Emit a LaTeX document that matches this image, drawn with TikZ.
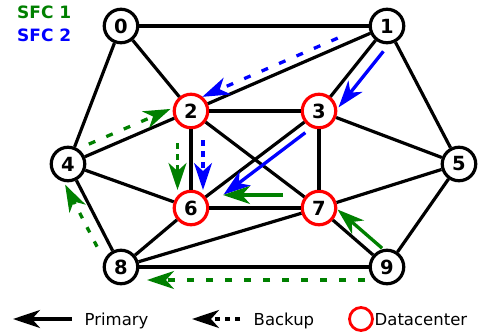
\documentclass[tikz,border=0pt]{standalone}
\usepackage{fontspec}
\setmainfont{DejaVu Sans}
\usetikzlibrary{arrows.meta,calc}
\definecolor{sfcgreen}{RGB}{0,128,0}
\definecolor{sfcblue}{RGB}{0,0,255}
\definecolor{dcred}{RGB}{255,0,0}
\begin{document}
\begin{tikzpicture}[x=1pt,y=-1pt,
  vtx/.style={circle,draw=black,line width=3.2pt,minimum size=33.5pt,inner sep=0pt,fill=white,font=\fontsize{19.5}{22}\selectfont\bfseries},
  dc/.style={vtx,draw=dcred},
  lnk/.style={line width=3.2pt},
  arr/.style={line width=3.3pt,-{Stealth[length=27pt,width=18pt,inset=8pt]}},
  bk/.style={arr,dash pattern=on 7pt off 12pt},
  lbl/.style={inner sep=0pt,anchor=base west,font=\fontsize{16.5}{20}\selectfont},
  sfc/.style={inner sep=0pt,anchor=base west,font=\fontsize{17}{20}\selectfont\bfseries},
]
\useasboundingbox (0,0) rectangle (479,335);

% nodes
\node[vtx] (n0) at (121,26) {0};
\node[vtx] (n1) at (387,26) {1};
\node[dc]  (n2) at (191,111) {2};
\node[dc]  (n3) at (319,111) {3};
\node[vtx] (n4) at (68,164) {4};
\node[vtx] (n5) at (459,164) {5};
\node[dc]  (n6) at (191,208) {6};
\node[dc]  (n7) at (319,208) {7};
\node[vtx] (n8) at (121,267) {8};
\node[vtx] (n9) at (387,267) {9};

% edges
\foreach \a/\b in {n0/n1,n0/n2,n0/n4,n1/n2,n1/n3,n1/n5,n2/n3,n2/n4,n2/n6,n2/n7,
                   n3/n5,n3/n6,n3/n7,n4/n6,n4/n8,n5/n7,n5/n9,n6/n7,n6/n8,n7/n8,n7/n9,n8/n9}
  \draw[lnk] (\a) -- (\b);

% SFC 2 (blue)
\draw[bk,sfcblue,shorten <=50pt,shorten >=16pt] ($(n1)!8.5pt!-90:(n2)$) -- ($(n2)!8.5pt!90:(n1)$);
\draw[arr,sfcblue,shorten <=22pt,shorten >=15pt] ($(n1)!13pt!90:(n3)$) -- ($(n3)!13pt!-90:(n1)$);
\draw[arr,sfcblue,shorten <=24pt,shorten >=34pt] ($(n3)!9pt!90:(n6)$) -- ($(n6)!9pt!-90:(n3)$);
\draw[bk,sfcblue,dash pattern=on 6pt off 5pt,shorten <=29pt,shorten >=18pt] ($(n2)!12pt!90:(n6)$) -- ($(n6)!12pt!-90:(n2)$);

% SFC 1 (green)
\draw[bk,sfcgreen,dash pattern=on 6pt off 5pt,shorten <=32pt,shorten >=18pt] ($(n2)!13.5pt!-90:(n6)$) -- ($(n6)!13.5pt!90:(n2)$);
\draw[bk,sfcgreen,shorten <=27pt,shorten >=18pt] ($(n4)!10pt!90:(n2)$) -- ($(n2)!10pt!-90:(n4)$);
\draw[arr,sfcgreen,shorten <=36pt,shorten >=32pt] ($(n7)!13pt!-90:(n6)$) -- ($(n6)!13pt!90:(n7)$);
\draw[arr,sfcgreen,shorten <=16pt,shorten >=15pt] ($(n9)!11pt!-90:(n7)$) -- ($(n7)!11pt!90:(n9)$);
\draw[bk,sfcgreen,shorten <=22pt,shorten >=26pt] ($(n9)!13pt!90:(n8)$) -- ($(n8)!13pt!-90:(n9)$);
\draw[bk,sfcgreen,dash pattern=on 6pt off 10pt,shorten <=29pt,shorten >=17pt] ($(n8)!12pt!90:(n4)$) -- ($(n4)!12pt!-90:(n8)$);

% titles
\node[sfc,text=sfcgreen] (t1) at (17,18.3) {SFC 1};
\node[sfc,text=sfcblue] (t2) at (17,41.5) {SFC 2};

% legend
\coordinate (pa) at (72,319);
\coordinate (pb) at (13,319);
\draw[arr,black] (pa) -- (pb);
\node[lbl] (lp) at (84.5,325) {Primary};
\coordinate (ba) at (240,319);
\coordinate (bb) at (192,319);
\draw[bk,black,dash pattern=on 5pt off 5pt] (ba) -- (bb);
\node[lbl] (lb) at (253.5,325) {Backup};
\node[circle,draw=dcred,line width=2.8pt,minimum size=23pt,inner sep=0pt] (ld) at (361,319) {};
\node[lbl] (ldt) at (374.5,325) {Datacenter};
\end{tikzpicture}
\end{document}
